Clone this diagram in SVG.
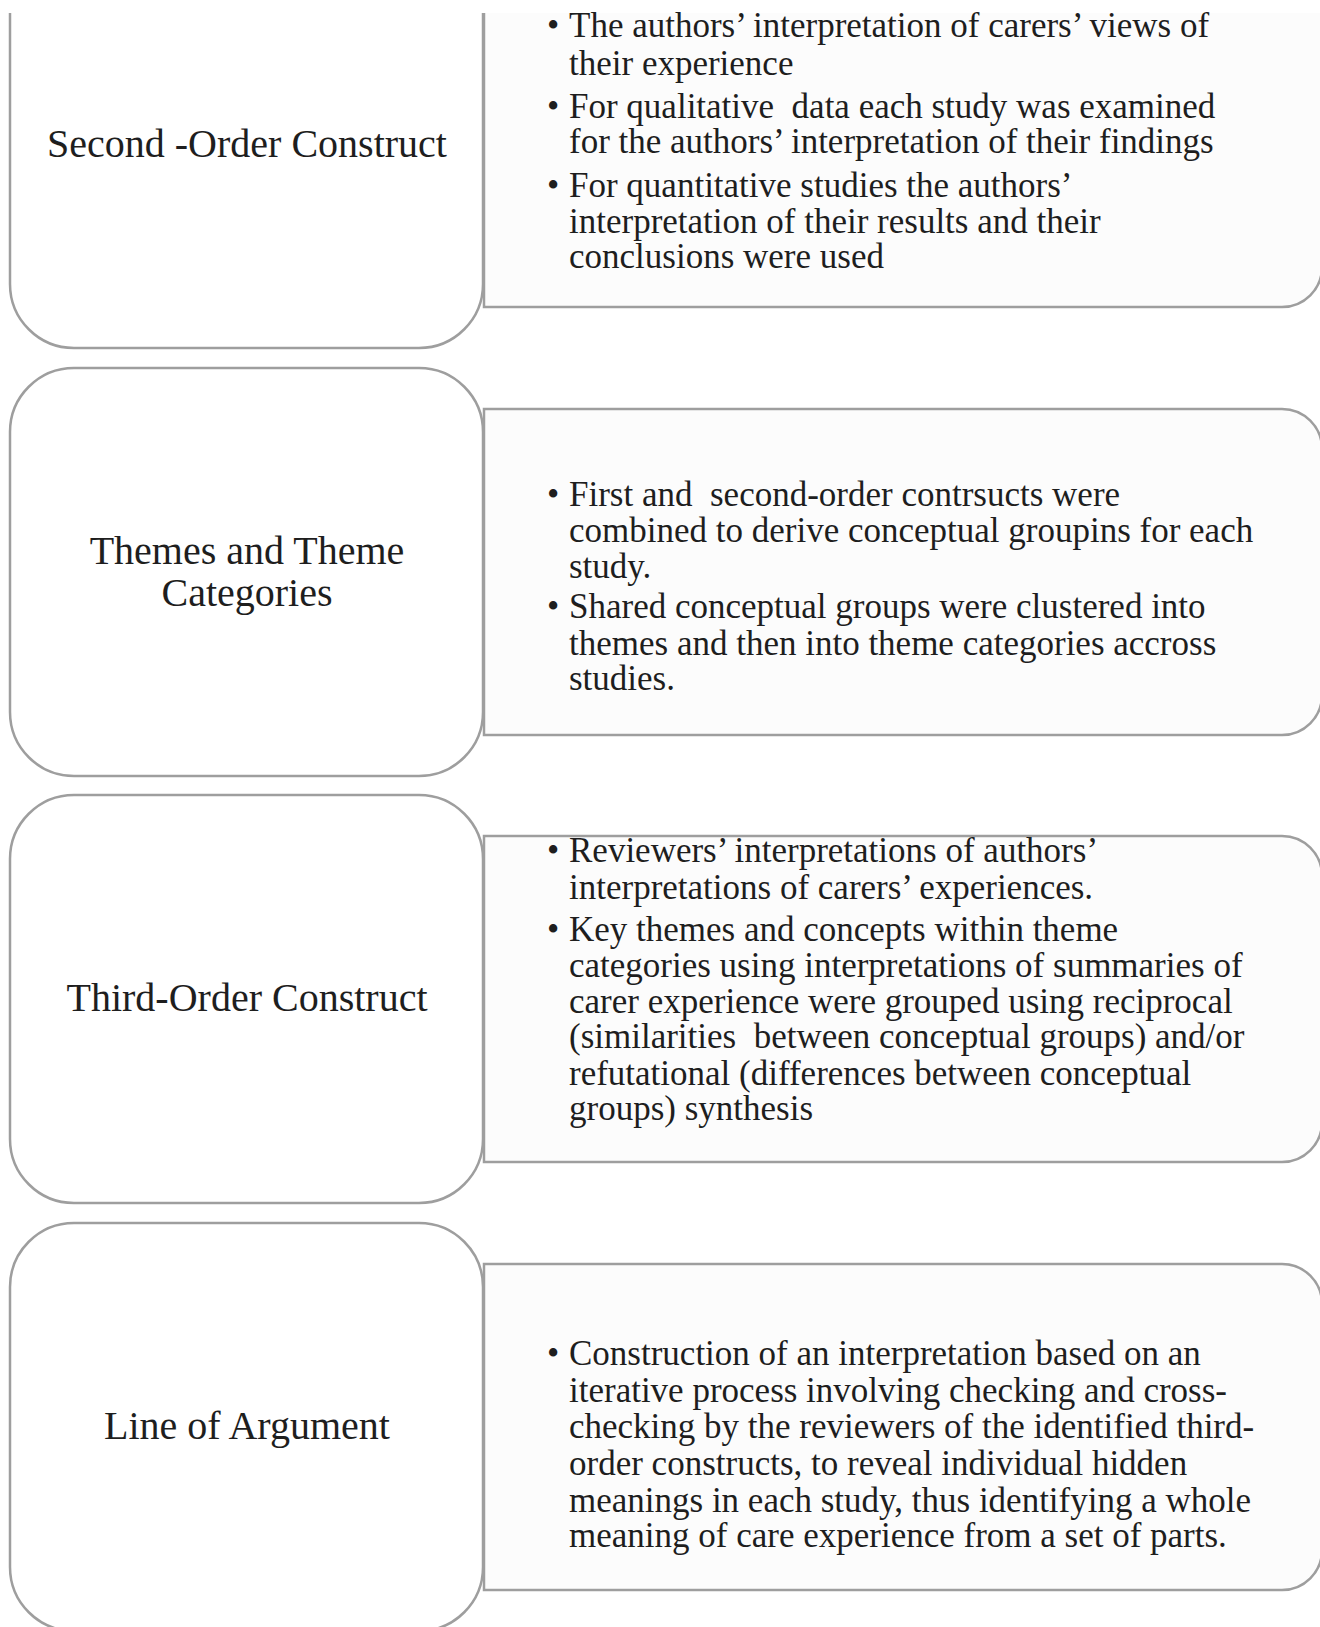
<svg xmlns="http://www.w3.org/2000/svg" width="1320" height="1627" viewBox="0 0 1320 1627">
<style>
  .lbox { fill: #ffffff; stroke: #9e9e9e; stroke-width: 2.5; }
  .rbox { fill: #fcfcfc; stroke: #9e9e9e; stroke-width: 2.5; }
  .label { font-family: "Liberation Serif", "Times New Roman", serif; font-size: 40px; fill: #1e1e1e; text-anchor: middle; }
  .body { font-family: "Liberation Serif", "Times New Roman", serif; font-size: 35px; fill: #1e1e1e; white-space: pre; }
</style>
<rect x="0" y="0" width="1320" height="1627" fill="#ffffff"/>
<g id="connectors"></g>

<g id="node-second-order">
  <path class="lbox" d="M10,13 V284 A64,64 0 0 0 74,348 H419 A64,64 0 0 0 483,284 V13"/>
  <text class="label" x="247" y="157">Second -Order Construct</text>
</g>
<g id="node-second-order-detail">
  <path class="rbox" d="M484,13 V307 H1282 A40,40 0 0 0 1322,267 V13"/>
  <text class="body" x="547" y="37">•</text>
  <text class="body" x="569" y="37">The authors’ interpretation of carers’ views of</text>
  <text class="body" x="569" y="75">their experience</text>
  <text class="body" x="547" y="118">•</text>
  <text class="body" x="569" y="118">For qualitative  data each study was examined</text>
  <text class="body" x="569" y="153">for the authors’ interpretation of their findings</text>
  <text class="body" x="547" y="197">•</text>
  <text class="body" x="569" y="197">For quantitative studies the authors’</text>
  <text class="body" x="569" y="233">interpretation of their results and their</text>
  <text class="body" x="569" y="268">conclusions were used</text>
</g>

<g id="node-themes">
  <rect class="lbox" x="10" y="368" width="473" height="408" rx="64" ry="64"/>
  <text class="label" x="247" y="564">Themes and Theme</text>
  <text class="label" x="247" y="606">Categories</text>
</g>
<g id="node-themes-detail">
  <path class="rbox" d="M484,409 H1282 A40,40 0 0 1 1322,449 V695 A40,40 0 0 1 1282,735 H484 Z"/>
  <text class="body" x="547" y="506">•</text>
  <text class="body" x="569" y="506">First and  second-order contrsucts were</text>
  <text class="body" x="569" y="542">combined to derive conceptual groupins for each</text>
  <text class="body" x="569" y="578">study.</text>
  <text class="body" x="547" y="618">•</text>
  <text class="body" x="569" y="618">Shared conceptual groups were clustered into</text>
  <text class="body" x="569" y="655">themes and then into theme categories accross</text>
  <text class="body" x="569" y="690">studies.</text>
</g>

<g id="node-third-order">
  <rect class="lbox" x="10" y="795" width="473" height="408" rx="64" ry="64"/>
  <text class="label" x="247" y="1011">Third-Order Construct</text>
</g>
<g id="node-third-order-detail">
  <path class="rbox" d="M484,836 H1282 A40,40 0 0 1 1322,876 V1122 A40,40 0 0 1 1282,1162 H484 Z"/>
  <text class="body" x="547" y="862">•</text>
  <text class="body" x="569" y="862">Reviewers’ interpretations of authors’</text>
  <text class="body" x="569" y="899">interpretations of carers’ experiences.</text>
  <text class="body" x="547" y="941">•</text>
  <text class="body" x="569" y="941">Key themes and concepts within theme</text>
  <text class="body" x="569" y="977">categories using interpretations of summaries of</text>
  <text class="body" x="569" y="1013">carer experience were grouped using reciprocal</text>
  <text class="body" x="569" y="1048">(similarities  between conceptual groups) and/or</text>
  <text class="body" x="569" y="1085">refutational (differences between conceptual</text>
  <text class="body" x="569" y="1120">groups) synthesis</text>
</g>

<g id="node-line-of-argument">
  <rect class="lbox" x="10" y="1223" width="473" height="408" rx="64" ry="64"/>
  <text class="label" x="247" y="1439">Line of Argument</text>
</g>
<g id="node-line-of-argument-detail">
  <path class="rbox" d="M484,1264 H1282 A40,40 0 0 1 1322,1304 V1550 A40,40 0 0 1 1282,1590 H484 Z"/>
  <text class="body" x="547" y="1365">•</text>
  <text class="body" x="569" y="1365">Construction of an interpretation based on an</text>
  <text class="body" x="569" y="1402">iterative process involving checking and cross-</text>
  <text class="body" x="569" y="1438">checking by the reviewers of the identified third-</text>
  <text class="body" x="569" y="1475">order constructs, to reveal individual hidden</text>
  <text class="body" x="569" y="1512">meanings in each study, thus identifying a whole</text>
  <text class="body" x="569" y="1547">meaning of care experience from a set of parts.</text>
</g>
</svg>
